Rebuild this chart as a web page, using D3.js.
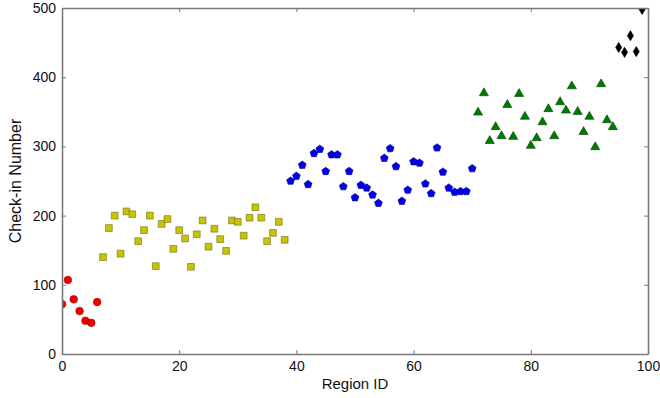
<!DOCTYPE html>
<html>
<head>
<meta charset="utf-8">
<script src="https://cdn.jsdelivr.net/npm/d3@7"></script>
<style>
    html, body { margin: 0; padding: 0; background: #fff; }
    svg text { font-family: "Liberation Sans", Arial, sans-serif; fill: #111; }
</style>
</head>
<body>
<div id="chart"></div>
<script>

// Check-in counts per region, one array per cluster (region IDs are consecutive).
const redStart = 0;
const redValues = [72, 107, 79, 62, 48, 45, 75];

const yellowStart = 7;
const yellowValues = [140, 182, 200, 145, 206, 202, 163, 179, 200, 127, 188, 195, 152, 179, 167, 126,
    173, 193, 155, 181, 166, 149, 193, 191, 171, 197, 212, 197, 163, 175, 191, 165];

const blueStart = 39;
const blueValues = [250, 257, 273, 245, 290, 296, 264, 288, 288, 242, 264, 226, 244, 240, 230, 218,
    283, 297, 271, 221, 237, 278, 276, 246, 232, 298, 263, 240, 234, 235, 235, 268];

const greenStart = 71;
const greenValues = [349, 377, 308, 328, 315, 360, 314, 376, 343, 301, 312, 335, 354, 315, 364, 352,
    387, 350, 321, 343, 299, 390, 338, 328];

const blackStart = 95;
const blackValues = [443, 436, 460, 437, 498];

const xTicks = [0, 20, 40, 60, 80, 100];
const yTicks = [0, 100, 200, 300, 400, 500];

const width = 660;
const height = 398;
const margin = { top: 8, right: 12, bottom: 44, left: 62 };

// Custom symbol types that d3 doesn't ship with.
const symbolPentagon = {
    draw(context, size) {
        const r = Math.sqrt(size / 2.378);
        for (let i = 0; i < 5; i++) {
            const a = -Math.PI / 2 + i * 2 * Math.PI / 5;
            const x = r * Math.cos(a), y = r * Math.sin(a);
            i ? context.lineTo(x, y) : context.moveTo(x, y);
        }
        context.closePath();
    }
};

const symbolThinDiamond = {
    draw(context, size) {
        const h = Math.sqrt(size) * 0.75;
        const w = h * 0.6;
        context.moveTo(0, -h);
        context.lineTo(w, 0);
        context.lineTo(0, h);
        context.lineTo(-w, 0);
        context.closePath();
    }
};

const series = [
    { start: redStart, values: redValues, type: d3.symbolCircle, size: 46, fill: '#ee0000', stroke: '#a00000' },
    { start: yellowStart, values: yellowValues, type: d3.symbolSquare, size: 46, fill: '#c8c400', stroke: '#6f6b2a' },
    { start: blueStart, values: blueValues, type: symbolPentagon, size: 40, fill: '#0000ee', stroke: '#00007a' },
    { start: greenStart, values: greenValues, type: d3.symbolTriangle, size: 36, fill: '#007a00', stroke: '#004000' },
    { start: blackStart, values: blackValues, type: symbolThinDiamond, size: 46, fill: '#000', stroke: '#000' }
];

const x = d3.scaleLinear().domain([0, 100]).range([margin.left, width - margin.right]);
const y = d3.scaleLinear().domain([0, 500]).range([height - margin.bottom, margin.top]);

const svg = d3.select('#chart').append('svg').attr('width', width).attr('height', height);

svg.append('clipPath').attr('id', 'plot-clip')
    .append('rect')
    .attr('x', x(0)).attr('y', y(500))
    .attr('width', x(100) - x(0)).attr('height', y(0) - y(500));

// Markers for each cluster.
const plot = svg.append('g').attr('clip-path', 'url(#plot-clip)');

series.forEach(s => {
    const symbol = d3.symbol().type(s.type).size(s.size);
    plot.append('g')
        .selectAll('path')
        .data(s.values.map((v, i) => ({ id: s.start + i, value: v })))
        .join('path')
        .attr('d', symbol)
        .attr('transform', d => `translate(${x(d.id)},${y(d.value)})`)
        .attr('fill', s.fill)
        .attr('stroke', s.stroke)
        .attr('stroke-width', 0.6);
});

// Axes with inward ticks on all four sides.
const tickLen = 4;
const frame = svg.append('g');

frame.append('g')
    .attr('transform', `translate(0,${y(0)})`)
    .call(d3.axisBottom(x).tickValues(xTicks).tickSizeInner(-tickLen).tickSizeOuter(0).tickPadding(7));

frame.append('g')
    .attr('transform', `translate(0,${y(500)})`)
    .call(d3.axisTop(x).tickValues(xTicks).tickSizeInner(-tickLen).tickSizeOuter(0).tickFormat(''));

frame.append('g')
    .attr('transform', `translate(${x(0)},0)`)
    .call(d3.axisLeft(y).tickValues(yTicks).tickSizeInner(-tickLen).tickSizeOuter(0).tickPadding(6));

frame.append('g')
    .attr('transform', `translate(${x(100)},0)`)
    .call(d3.axisRight(y).tickValues(yTicks).tickSizeInner(-tickLen).tickSizeOuter(0).tickFormat(''));

frame.selectAll('.domain').attr('stroke', '#7a7a7a').attr('stroke-width', 1.6);
frame.selectAll('.tick line').attr('stroke', '#7a7a7a').attr('stroke-width', 1);
frame.selectAll('.tick text').attr('font-size', 14).attr('fill', '#111');

// Axis titles.
svg.append('text')
    .attr('x', (x(0) + x(100)) / 2)
    .attr('y', 389)
    .attr('text-anchor', 'middle')
    .attr('font-size', 15)
    .text('Region ID');

svg.append('text')
    .attr('transform', `translate(21,${(y(0) + y(500)) / 2}) rotate(-90)`)
    .attr('text-anchor', 'middle')
    .attr('font-size', 16)
    .text('Check-in Number');

</script>
</body>
</html>
